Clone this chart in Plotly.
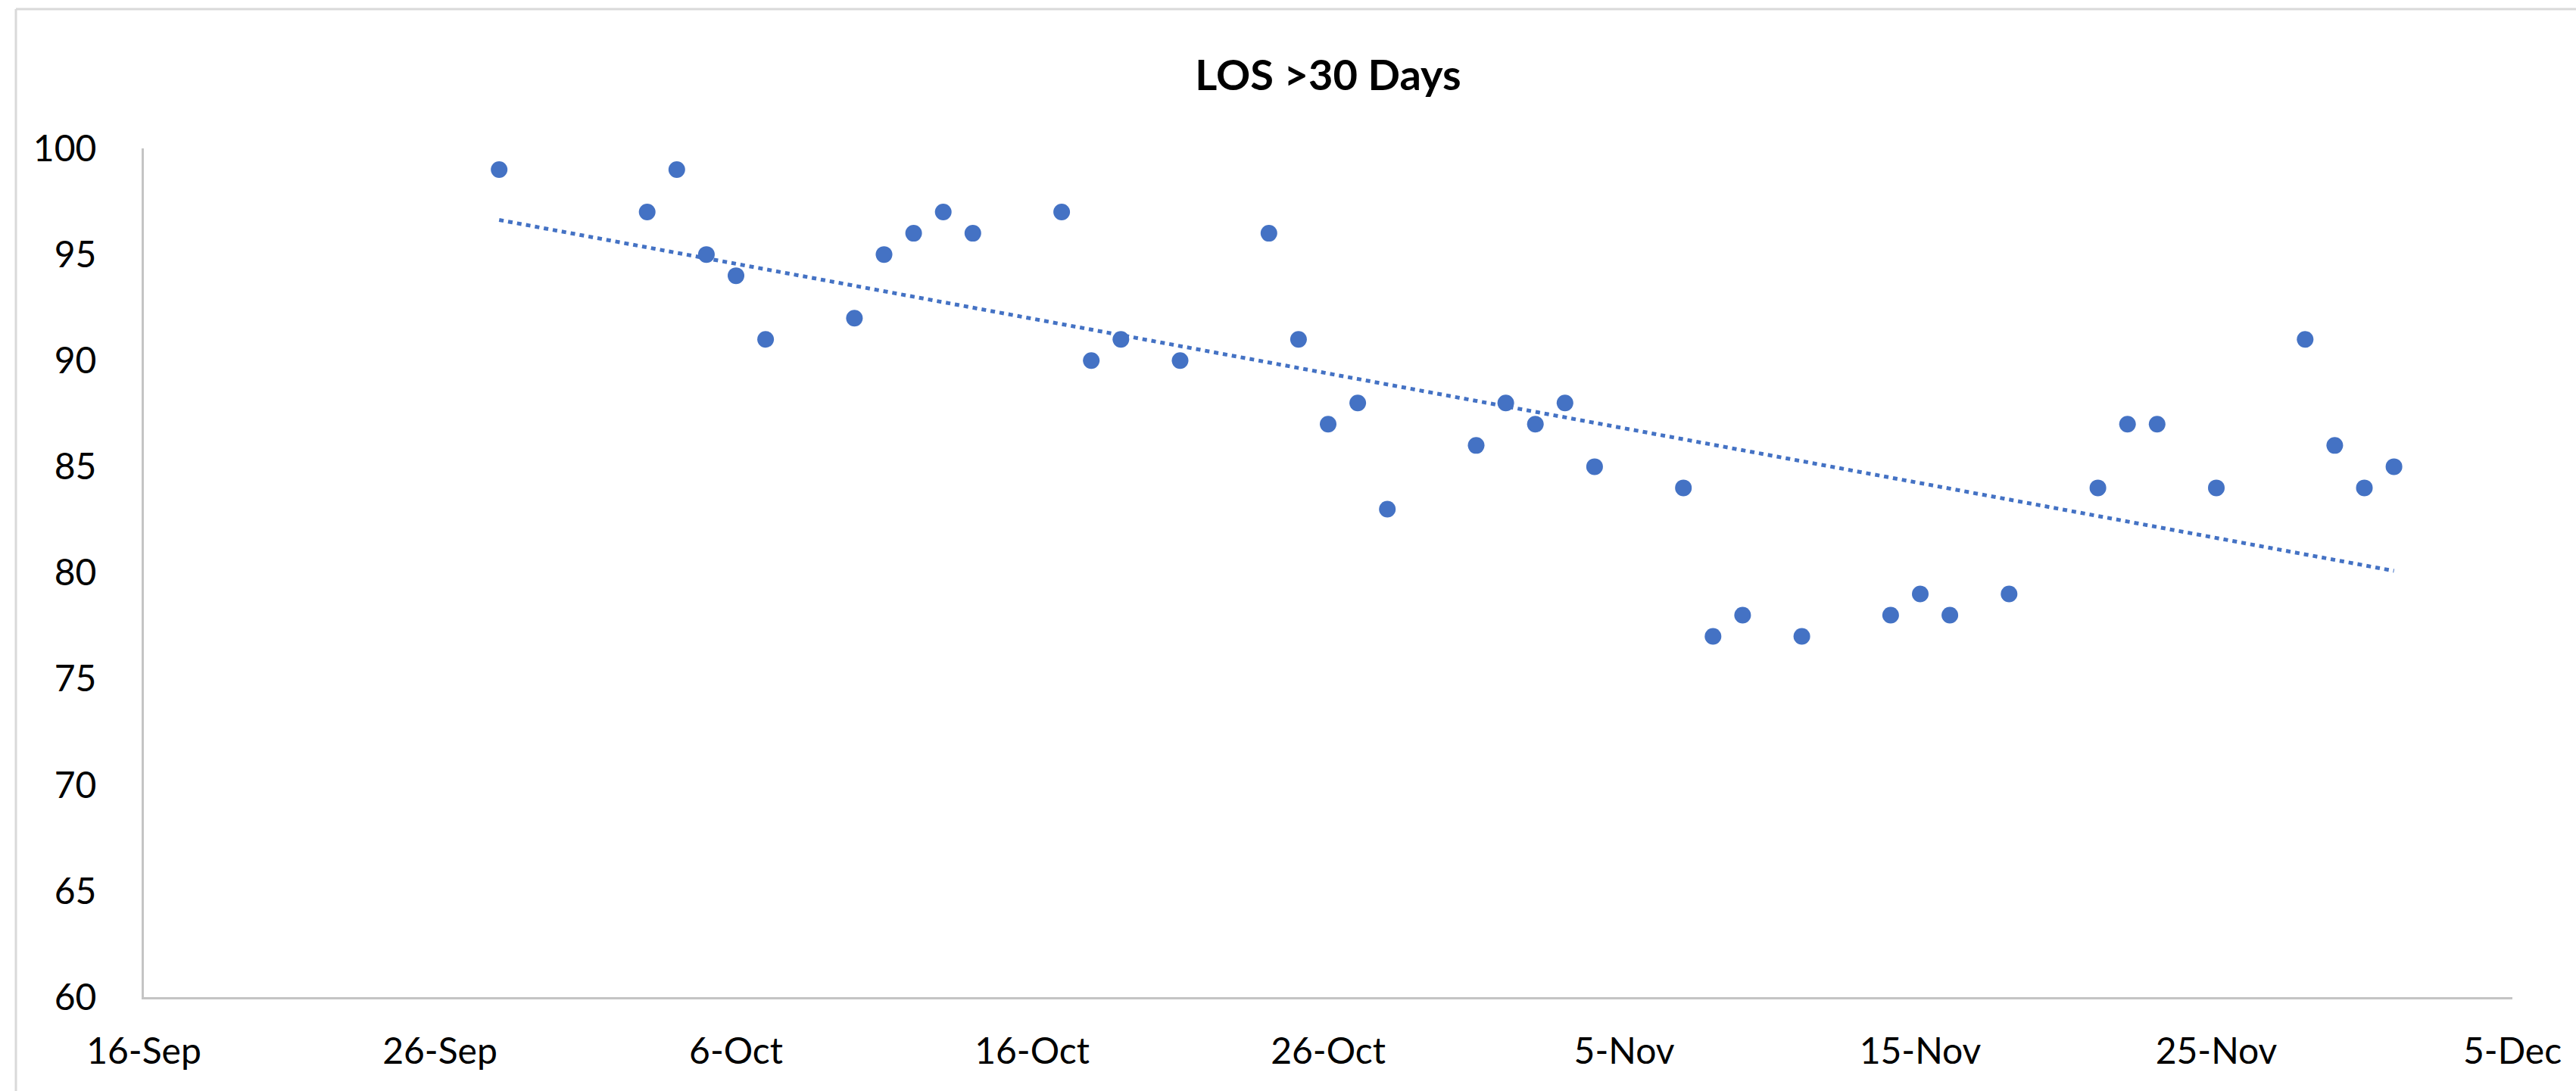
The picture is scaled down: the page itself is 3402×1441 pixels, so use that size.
import numpy as np
import pandas as pd
import plotly.graph_objects as go

# Data
dates = ["2020-09-28", "2020-10-03", "2020-10-04", "2020-10-05", "2020-10-06", "2020-10-07",
         "2020-10-10", "2020-10-11", "2020-10-12", "2020-10-13", "2020-10-14", "2020-10-17",
         "2020-10-18", "2020-10-19", "2020-10-21", "2020-10-24", "2020-10-25", "2020-10-26",
         "2020-10-27", "2020-10-28", "2020-10-31", "2020-11-01", "2020-11-02", "2020-11-03",
         "2020-11-04", "2020-11-07", "2020-11-08", "2020-11-09", "2020-11-11", "2020-11-14",
         "2020-11-15", "2020-11-16", "2020-11-18", "2020-11-21", "2020-11-22", "2020-11-23",
         "2020-11-25", "2020-11-28", "2020-11-29", "2020-11-30", "2020-12-01"]
los_values = [99, 97, 99, 95, 94, 91,
              92, 95, 96, 97, 96, 97,
              90, 91, 90, 96, 91, 87,
              88, 83, 86, 88, 87, 88,
              85, 84, 77, 78, 77, 78,
              79, 78, 79, 84, 87, 87,
              84, 91, 86, 84, 85]
title_text = "LOS >30 Days"
x_range = ["2020-09-16", "2020-12-05"]
y_range = [60, 100]

# Linear trendline (least squares over the dates)
dt = pd.to_datetime(dates)
days = (dt - dt[0]).days.values.astype(float)
slope, intercept = np.polyfit(days, np.array(los_values, dtype=float), 1)
trend_x = [dates[0], dates[-1]]
trend_y = [intercept, intercept + slope * days[-1]]

blue = "#4472C4"
axis_gray = "#C4C4C4"
font_family = "Lato, 'Open Sans', sans-serif"

fig = go.Figure()
fig.add_trace(go.Scatter(x=trend_x, y=trend_y, mode="lines",
                         line=dict(color=blue, width=5, dash="6px,6px"),
                         showlegend=False, hoverinfo="skip"))
fig.add_trace(go.Scatter(x=dates, y=los_values, mode="markers",
                         marker=dict(color=blue, size=22, line=dict(width=0)),
                         showlegend=False))

W, H = 3402, 1441
L, R, T, B = 190, 84, 196, 124
pw, ph = W - L - R, H - T - B

def px_x(x):
    return (x - L) / pw

def px_y(y):
    return (H - B - y) / ph

fig.update_layout(
    width=W, height=H,
    margin=dict(l=L, r=R, t=T, b=B, pad=0, autoexpand=False),
    paper_bgcolor="white", plot_bgcolor="white",
    font=dict(family=font_family, size=48, color="#000000"),
    title=dict(text=title_text, x=0.5, xref="paper", xanchor="center",
               y=1 - 99 / H, yref="container", yanchor="middle",
               font=dict(family=font_family, size=56, color="#000000", weight="bold")),
    xaxis=dict(type="date", range=x_range, tick0=x_range[0], dtick=10 * 86400000,
               tickformat="%-d-%b", showgrid=False, zeroline=False,
               showline=True, linecolor=axis_gray, linewidth=3,
               ticks="", ticklabelstandoff=27, automargin=False,
               tickfont=dict(family=font_family, size=48, color="#000000")),
    yaxis=dict(range=y_range, dtick=5, tick0=60, showgrid=False, zeroline=False,
               showline=True, linecolor=axis_gray, linewidth=3,
               ticks="", ticklabelstandoff=50, automargin=False,
               tickfont=dict(family=font_family, size=48, color="#000000")),
    shapes=[
        dict(type="line", xref="paper", yref="paper",
             x0=px_x(21), x1=px_x(W + 5), y0=px_y(12), y1=px_y(12),
             line=dict(color="#D9D9D9", width=3)),
        dict(type="line", xref="paper", yref="paper",
             x0=px_x(21), x1=px_x(21), y0=px_y(12), y1=px_y(H + 5),
             line=dict(color="#D9D9D9", width=3)),
    ],
)

fig.write_html("out.html",
               config={"displayModeBar": False},
               post_script="document.body.style.margin='0';document.body.style.overflow='hidden';")
